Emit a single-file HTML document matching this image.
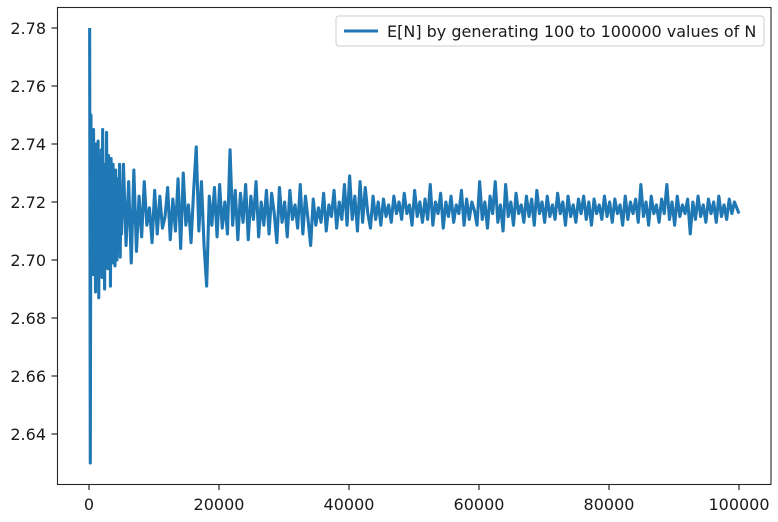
<!DOCTYPE html>
<html><head><meta charset="utf-8"><style>
body{margin:0;background:#fff;}
svg{display:block;font-family:"DejaVu Sans","Liberation Sans",sans-serif;}
</style></head><body>
<svg id="chart" width="778" height="522" viewBox="0 0 778 522">
<rect x="0" y="0" width="778" height="522" fill="#fff"/>
<g id="plot"></g>
<g id="axes"></g>
<rect x="57.5" y="7.5" width="713.5" height="477" fill="none" stroke="#262626" stroke-width="1.1"/>
<g>
<rect x="336" y="16" width="428" height="30" rx="3" fill="#fff" fill-opacity="0.85" stroke="#ccc"/>
<line x1="344" y1="31" x2="378" y2="31" stroke="#1f77b4" stroke-width="3"/>
<text x="387" y="37" font-size="16" fill="#1a1a1a">E[N] by generating 100 to 100000 values of N</text>
</g>
</svg>
<script>
const earlyValues = [
2.780,2.630,2.750,2.700,2.716,2.695,2.745,2.702,2.728,2.689,
2.740,2.708,2.697,2.741,2.687,2.735,2.712,2.699,2.738,2.694,
2.745,2.706,2.722,2.690,2.733,2.700,2.744,2.710,2.697,2.736,
2.703,2.729,2.691,2.735,2.712,2.699,2.733,2.706,2.724,2.698,
2.731,2.709,2.700,2.728,2.712,2.705,2.733,2.701,2.722,2.709
];
const laterValues = [
2.733,2.705,2.727,2.699,2.731,2.703,
2.722,2.708,2.727,2.712,2.718,2.706,2.724,2.709,2.722,2.711,
2.715,2.725,2.707,2.721,2.710,2.728,2.704,2.730,2.712,2.719,
2.706,2.724,2.739,2.710,2.727,2.705,2.691,2.722,2.712,2.725,
2.708,2.726,2.711,2.720,2.709,2.738,2.712,2.724,2.707,2.723,
2.713,2.726,2.707,2.722,2.714,2.727,2.708,2.720,2.712,2.724,
2.709,2.723,2.716,2.706,2.725,2.713,2.720,2.708,2.724,2.714,
2.719,2.711,2.726,2.709,2.722,2.714,2.705,2.721,2.712,2.718,
2.713,2.723,2.710,2.719,2.715,2.724,2.711,2.720,2.714,2.726,
2.712,2.729,2.714,2.722,2.710,2.727,2.713,2.725,2.716,2.711,
2.722,2.714,2.720,2.712,2.721,2.715,2.719,2.713,2.722,2.716,
2.720,2.714,2.723,2.716,2.719,2.712,2.724,2.715,2.720,2.713,
2.721,2.714,2.726,2.712,2.720,2.716,2.723,2.711,2.720,2.715,
2.722,2.713,2.719,2.716,2.724,2.712,2.721,2.714,2.720,2.717,
2.712,2.727,2.714,2.720,2.711,2.722,2.716,2.727,2.713,2.719,
2.710,2.726,2.715,2.720,2.712,2.723,2.716,2.719,2.713,2.722,
2.715,2.721,2.712,2.724,2.716,2.720,2.713,2.722,2.715,2.719,
2.714,2.723,2.716,2.720,2.712,2.722,2.715,2.719,2.713,2.721,
2.716,2.722,2.714,2.720,2.712,2.721,2.716,2.719,2.714,2.722,
2.715,2.720,2.713,2.721,2.716,2.719,2.712,2.722,2.714,2.720,
2.716,2.721,2.713,2.726,2.715,2.720,2.712,2.722,2.716,2.719,
2.713,2.721,2.716,2.726,2.714,2.720,2.712,2.722,2.715,2.719,
2.716,2.721,2.709,2.720,2.714,2.722,2.715,2.719,2.713,2.721,
2.716,2.720,2.713,2.722,2.715,2.719,2.714,2.721,2.716,2.720
];
const finalValue = 2.716;
const earlyStart = 100, earlyStep = 100;
const laterStart = 5300, laterStep = 400;
const nLast = 100000;
const xTicks = [0,20000,40000,60000,80000,100000];
const yTicks = [2.64,2.66,2.68,2.70,2.72,2.74,2.76,2.78];

const NS="http://www.w3.org/2000/svg";
function xs(v){return 89 + (v/100000)*650;}
function ys(v){return 434 - (v-2.64)*2900;}
const pts=[];
earlyValues.forEach((v,i)=>pts.push([earlyStart+i*earlyStep,v]));
laterValues.forEach((v,i)=>pts.push([laterStart+i*laterStep,v]));
pts.push([nLast,finalValue]);

const plot=document.getElementById('plot');
const path=document.createElementNS(NS,'path');
path.setAttribute('d', pts.map((p,i)=>(i?'L':'M')+xs(p[0]).toFixed(2)+' '+ys(p[1]).toFixed(2)).join(''));
path.setAttribute('fill','none');
path.setAttribute('stroke','#1f77b4');
path.setAttribute('stroke-width','3.1');
path.setAttribute('stroke-linejoin','round');


plot.appendChild(path);

const axes=document.getElementById('axes');
xTicks.forEach(t=>{
  const x=xs(t);
  const l=document.createElementNS(NS,'line');
  l.setAttribute('x1',x);l.setAttribute('x2',x);l.setAttribute('y1',484.5);l.setAttribute('y2',490);
  l.setAttribute('stroke','#262626');l.setAttribute('stroke-width','1.2');
  
  
  axes.appendChild(l);
  const tx=document.createElementNS(NS,'text');
  tx.setAttribute('x',x);tx.setAttribute('y',510);tx.setAttribute('text-anchor','middle');
  tx.setAttribute('font-size','16');tx.setAttribute('fill','#1a1a1a');
  tx.textContent=String(t);
  
  
  axes.appendChild(tx);
});
yTicks.forEach(t=>{
  const y=ys(t);
  const l=document.createElementNS(NS,'line');
  l.setAttribute('x1',51.5);l.setAttribute('x2',57.5);l.setAttribute('y1',y);l.setAttribute('y2',y);
  l.setAttribute('stroke','#262626');l.setAttribute('stroke-width','1.2');
  
  
  axes.appendChild(l);
  const tx=document.createElementNS(NS,'text');
  tx.setAttribute('x',46);tx.setAttribute('y',y+6);tx.setAttribute('text-anchor','end');
  tx.setAttribute('font-size','16');tx.setAttribute('fill','#1a1a1a');
  tx.textContent=t.toFixed(2);
  
  
  axes.appendChild(tx);
});
</script>
</body></html>
